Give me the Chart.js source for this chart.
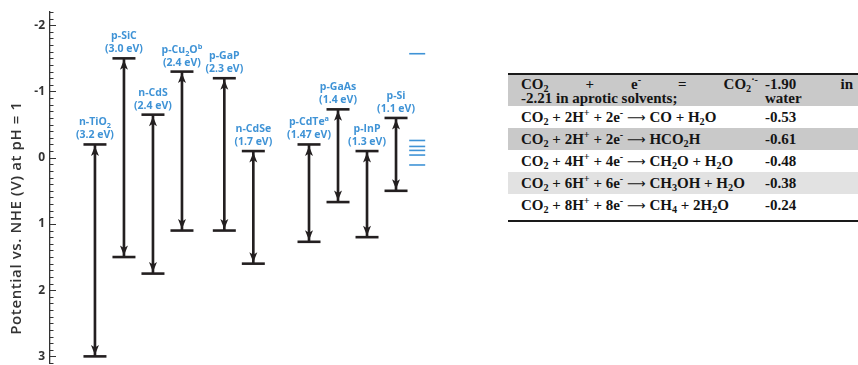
<!DOCTYPE html>
<html>
<head>
<meta charset="utf-8">
<script src="https://cdn.jsdelivr.net/npm/chart.js@4.4.1/dist/chart.umd.min.js"></script>
<style>
  html, body { margin: 0; padding: 0; background: #fff; width: 858px; height: 365px; overflow: hidden; }
  #plot { position: absolute; left: 0; top: 0; width: 470px; height: 365px; }
  #co2 {
    position: absolute; left: 508px; top: 73px; width: 350px;
    border-collapse: collapse; table-layout: fixed;
    border-top: 2px solid #1a1a1a; border-bottom: 2.5px solid #1a1a1a;
    font-family: "Liberation Serif", "Times New Roman", serif; font-weight: bold;
    font-size: 15px; color: #141414;
  }
  #co2 td { height: 22px; padding: 0 3px 0 13px; line-height: 15px; vertical-align: middle; white-space: nowrap; }
  #co2 td.val { padding: 0 5px 0 4px; }
  #co2 tr.first td { height: 31px; line-height: 14px; }
  #co2 tr.last td { height: 22px; padding-bottom: 4px; }
  #co2 .just { text-align: justify; text-align-last: justify; }
  #co2 sub, #co2 sup { font-size: 0.68em; line-height: 0; }
  #co2 sub { vertical-align: -0.3em; }
  #co2 sup { vertical-align: 0.55em; }
  #co2 .arr { font-family: "DejaVu Sans", sans-serif; font-weight: normal; font-size: 13px; }
</style>
</head>
<body>
<div id="plot"><canvas id="chart" width="470" height="365"></canvas></div>
<table id="co2"><colgroup><col style="width:253px"><col style="width:97px"></colgroup><tbody id="rows"></tbody></table>
<script>
// Semiconductor band edges vs. NHE at pH 1
const materials = ['n-TiO_2', 'p-SiC', 'n-CdS', 'p-Cu_2O^b', 'p-GaP', 'n-CdSe', 'p-CdTe^a', 'p-GaAs', 'p-InP', 'p-Si'];
const conductionBand = [-0.2, -1.5, -0.65, -1.3, -1.2, -0.1, -0.2, -0.73, -0.1, -0.6];
const bandGap = [3.2, 3.0, 2.4, 2.4, 2.3, 1.7, 1.47, 1.4, 1.3, 1.1];
const valenceBand = conductionBand.map((cb, i) => cb + bandGap[i]);

// CO2 reduction levels marked beside the band diagram (pH 1)
const redoxLevels = [-1.57, -0.26, -0.17, -0.11, -0.04, 0.11];

// Axis
const yTitle = 'Potential vs. NHE (V) at pH = 1';
const yMin = -2.2, yMax = 3.1;

// Reaction table (potentials in V)
const ARROW = '<span class="arr">⟶</span>';
const reactions = [
  'CO<sub>2</sub> + e<sup>-</sup> = CO<sub>2</sub><sup>·-</sup>',
  'CO<sub>2</sub> + 2H<sup>+</sup> + 2e<sup>-</sup> ' + ARROW + ' CO + H<sub>2</sub>O',
  'CO<sub>2</sub> + 2H<sup>+</sup> + 2e<sup>-</sup> ' + ARROW + ' HCO<sub>2</sub>H',
  'CO<sub>2</sub> + 4H<sup>+</sup> + 4e<sup>-</sup> ' + ARROW + ' CH<sub>2</sub>O + H<sub>2</sub>O',
  'CO<sub>2</sub> + 6H<sup>+</sup> + 6e<sup>-</sup> ' + ARROW + ' CH<sub>3</sub>OH + H<sub>2</sub>O',
  'CO<sub>2</sub> + 8H<sup>+</sup> + 8e<sup>-</sup> ' + ARROW + ' CH<sub>4</sub> + 2H<sub>2</sub>O'
];
const potentials = [-1.90, -0.53, -0.61, -0.48, -0.38, -0.24];
const aproticNote = '-2.21 in aprotic solvents;';

// ---- table ----
const shades = ['#c9c9c9', '#ffffff', '#c9c9c9', '#ffffff', '#e2e2e2', '#ffffff'];
const tbody = document.getElementById('rows');
reactions.forEach((r, i) => {
  const tr = document.createElement('tr');
  tr.style.background = shades[i];
  if (i === 0) {
    tr.className = 'first';
    tr.innerHTML = '<td><div class="just">' + r + '</div><div>' + aproticNote + '</div></td>' +
      '<td class="val"><div class="just">' + potentials[i].toFixed(2) + ' in</div><div>water</div></td>';
  } else {
    if (i === reactions.length - 1) tr.className = 'last';
    tr.innerHTML = '<td>' + r + '</td><td class="val">' + potentials[i].toFixed(2) + '</td>';
  }
  tbody.appendChild(tr);
});

// ---- chart ----
const INK = '#231f20';
const BLUE = '#3f93d6';

// columns sit one unit apart, with extra space opening each new group
const groupGaps = { 'p-GaP': 0.46, 'p-CdTe^a': 0.92 };
const slots = [];
materials.reduce((pos, m, i) => {
  const p = i === 0 ? 0 : pos + 1 + (groupGaps[m] || 0);
  slots.push(p);
  return p;
}, 0);
const redoxX = slots[slots.length - 1] + 0.73;

function gapText(v) { const s = String(v); return '(' + (s.includes('.') ? s : v.toFixed(1)) + ' eV)'; }

// draws text with _x subscripts and ^x superscripts, centred on cx
function drawRich(ctx, str, cx, y, size) {
  const parts = [];
  for (let i = 0; i < str.length; i++) {
    const c = str[i];
    if ((c === '_' || c === '^') && i + 1 < str.length) { parts.push({ t: str[i + 1], k: c }); i++; }
    else if (parts.length && !parts[parts.length - 1].k) parts[parts.length - 1].t += c;
    else parts.push({ t: c, k: null });
  }
  const big = '700 ' + size + 'px "Open Sans", sans-serif';
  const small = '700 ' + (size * 0.7) + 'px "Open Sans", sans-serif';
  let w = 0;
  parts.forEach(p => { ctx.font = p.k ? small : big; p.w = ctx.measureText(p.t).width; w += p.w; });
  let x = cx - w / 2;
  ctx.textAlign = 'left';
  ctx.textBaseline = 'alphabetic';
  parts.forEach(p => {
    ctx.font = p.k ? small : big;
    const dy = p.k === '_' ? size * 0.28 : p.k === '^' ? -size * 0.38 : 0;
    ctx.fillText(p.t, x, y + dy);
    x += p.w;
  });
}

const bandPlugin = {
  id: 'bandDecor',
  afterDatasetsDraw(chart) {
    const { ctx, chartArea } = chart;
    const xs = chart.scales.x, ys = chart.scales.y;
    ctx.save();
    // inner ticks on the potential axis
    ctx.strokeStyle = '#333';
    ctx.lineWidth = 1;
    ys.ticks.forEach(t => {
      const y = Math.round(ys.getPixelForValue(t.value)) + 0.5;
      const major = Math.abs(t.value - Math.round(t.value)) < 1e-6;
      ctx.beginPath();
      ctx.moveTo(chartArea.left, y);
      ctx.lineTo(chartArea.left + (major ? 6 : 3.5), y);
      ctx.stroke();
    });
    // arrowheads at both band edges
    materials.forEach((m, i) => {
      const x = xs.getPixelForValue(slots[i]);
      const top = ys.getPixelForValue(conductionBand[i]) + 1.5;
      const bot = ys.getPixelForValue(valenceBand[i]) - 1.5;
      ctx.fillStyle = INK;
      [[top, 1], [bot, -1]].forEach(([tip, dir]) => {
        ctx.beginPath();
        ctx.moveTo(x, tip);
        ctx.lineTo(x + 4, tip + dir * 10);
        ctx.lineTo(x, tip + dir * 7.5);
        ctx.lineTo(x - 4, tip + dir * 10);
        ctx.closePath();
        ctx.fill();
      });
      // material name and band gap above the conduction band edge
      ctx.fillStyle = BLUE;
      const capY = ys.getPixelForValue(conductionBand[i]);
      drawRich(ctx, m, x, capY - 19, 10.5);
      drawRich(ctx, gapText(bandGap[i]), x, capY - 6, 10.5);
    });
    // axis title
    ctx.fillStyle = '#333';
    ctx.font = '600 15px "Open Sans", sans-serif';
    ctx.letterSpacing = '0.6px';
    ctx.translate(17, 218);
    ctx.rotate(-Math.PI / 2);
    ctx.textAlign = 'center';
    ctx.textBaseline = 'middle';
    ctx.fillText(yTitle, 0, 0);
    ctx.restore();
  }
};

new Chart(document.getElementById('chart'), {
  type: 'bar',
  data: {
    datasets: [
      {
        label: 'band gap',
        data: materials.map((m, i) => ({ x: slots[i], y: [conductionBand[i], valenceBand[i]] })),
        backgroundColor: INK,
        barThickness: 2,
        order: 2
      },
      {
        type: 'line',
        label: 'band edges',
        data: materials.flatMap((m, i) => [{ x: slots[i], y: conductionBand[i] }, { x: slots[i], y: valenceBand[i] }]),
        showLine: false,
        pointStyle: 'line',
        pointRadius: 11.5,
        pointHoverRadius: 11.5,
        pointBorderWidth: 2.6,
        pointBorderColor: INK,
        order: 1
      },
      {
        type: 'line',
        label: 'CO2 reduction',
        data: redoxLevels.map(v => ({ x: redoxX, y: v })),
        showLine: false,
        pointStyle: 'line',
        pointRadius: 8,
        pointHoverRadius: 8,
        pointBorderWidth: 1.6,
        pointBorderColor: BLUE,
        order: 1
      }
    ]
  },
  options: {
    responsive: false,
    animation: false,
    events: [],
    layout: { autoPadding: false, padding: { left: 0, top: 12, right: 18, bottom: 2 } },
    plugins: { legend: { display: false }, tooltip: { enabled: false } },
    scales: {
      x: { type: 'linear', display: false, offset: false, min: -1.55, max: 12.31 },
      y: {
        type: 'linear',
        reverse: true,
        min: yMin,
        max: yMax,
        afterFit: s => { s.width = 50; s.paddingTop = 0; s.paddingBottom = 0; },
        afterBuildTicks: s => {
          const t = [];
          for (let k = Math.round(yMin * 10); k <= Math.round(yMax * 10); k++) t.push({ value: k / 10 });
          s.ticks = t;
        },
        ticks: {
          autoSkip: false,
          padding: 5,
          color: '#333',
          font: { family: '"Open Sans", sans-serif', size: 12, weight: '700' },
          callback: v => (Math.abs(v - Math.round(v)) < 1e-6 ? String(Math.round(v)) : '')
        },
        grid: { drawOnChartArea: false, drawTicks: false },
        border: { display: true, color: '#333', width: 1.3 }
      }
    }
  },
  plugins: [bandPlugin]
});
</script>
</body>
</html>
